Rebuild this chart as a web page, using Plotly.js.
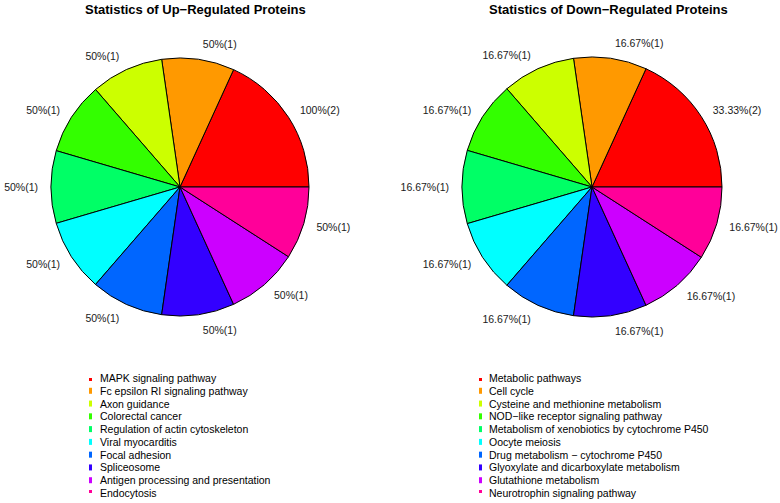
<!DOCTYPE html>
<html>
<head>
<meta charset="utf-8">
<script src="https://cdn.plot.ly/plotly-3.0.1.min.js"></script>
<style>html,body{margin:0;padding:0;background:#fff;}#chart{width:780px;height:503px;}</style>
</head>
<body>
<div id="chart"></div>
<script>
// ---- data ----
const upCategories = [
  "MAPK signaling pathway",
  "Fc epsilon RI signaling pathway",
  "Axon guidance",
  "Colorectal cancer",
  "Regulation of actin cytoskeleton",
  "Viral myocarditis",
  "Focal adhesion",
  "Spliceosome",
  "Antigen processing and presentation",
  "Endocytosis"
];
const upCounts = [2, 1, 1, 1, 1, 1, 1, 1, 1, 1];
const upPercent = ["100%", "50%", "50%", "50%", "50%", "50%", "50%", "50%", "50%", "50%"];

const downCategories = [
  "Metabolic pathways",
  "Cell cycle",
  "Cysteine and methionine metabolism",
  "NOD\u2212like receptor signaling pathway",
  "Metabolism of xenobiotics by cytochrome P450",
  "Oocyte meiosis",
  "Drug metabolism \u2212 cytochrome P450",
  "Glyoxylate and dicarboxylate metabolism",
  "Glutathione metabolism",
  "Neurotrophin signaling pathway"
];
const downCounts = [2, 1, 1, 1, 1, 1, 1, 1, 1, 1];
const downPercent = ["33.33%", "16.67%", "16.67%", "16.67%", "16.67%", "16.67%", "16.67%", "16.67%", "16.67%", "16.67%"];

const sliceColors = ["#FF0000", "#FF9900", "#CCFF00", "#33FF00", "#00FF66",
                     "#00FFFF", "#0066FF", "#3300FF", "#CC00FF", "#FF0099"];

const titles = ["Statistics of Up\u2212Regulated Proteins", "Statistics of Down\u2212Regulated Proteins"];

// ---- layout helpers ----
const W = 780, H = 503;
const FONT = "Liberation Sans, Arial, sans-serif";

function dom(cx, cy, r) {
  return {x: [(cx - r) / W, (cx + r) / W], y: [(H - cy - r) / H, (H - cy + r) / H]};
}

// visible pie (slices only)
function pieTrace(cats, counts, cx, cy, r) {
  const total = counts.reduce((a, b) => a + b, 0);
  return {
    type: "pie",
    labels: cats,
    values: counts,
    textinfo: "none",
    sort: false,
    direction: "counterclockwise",
    rotation: 90 - 360 * counts[0] / total, // first slice starts at 3 o'clock
    marker: {colors: sliceColors, line: {color: "#000000", width: 1}},
    domain: dom(cx, cy, r),
    hoverinfo: "none",
    showlegend: false
  };
}

// same slices, slightly larger and invisible, carrying the outside labels
function labelTrace(cats, counts, pcts, cx, cy, r) {
  const total = counts.reduce((a, b) => a + b, 0);
  return {
    type: "pie",
    labels: cats,
    values: counts,
    text: pcts.map((p, i) => p + "(" + counts[i] + ")"),
    textinfo: "text",
    textposition: "outside",
    sort: false,
    direction: "counterclockwise",
    rotation: 90 - 360 * counts[0] / total,
    marker: {colors: cats.map(() => "rgba(0,0,0,0)"), line: {width: 0}},
    outsidetextfont: {family: FONT, size: 10.5, color: "#1a1a1a"},
    domain: dom(cx, cy, r),
    hoverinfo: "none",
    showlegend: false
  };
}

function legendTrace(cats, xa, ya) {
  return {
    type: "scatter",
    mode: "markers",
    x: cats.map(() => 0),
    y: cats.map((c, i) => i),
    xaxis: xa, yaxis: ya,
    marker: {symbol: "square", size: 6, color: sliceColors, line: {width: 0}},
    hoverinfo: "none",
    showlegend: false
  };
}

const data = [
  pieTrace(upCategories, upCounts, 180, 187, 129),
  pieTrace(downCategories, downCounts, 592, 187, 130),
  labelTrace(upCategories, upCounts, upPercent, 180, 187, 139),
  labelTrace(downCategories, downCounts, downPercent, 592, 187, 140),
  legendTrace(upCategories, "x", "y"),
  legendTrace(downCategories, "x2", "y2")
];

const legendY = [(H - 493) / H, (H - 378) / H];
const hiddenAxis = {visible: false, showgrid: false, zeroline: false, fixedrange: true};

const annotations = [];
titles.forEach((t, k) => {
  annotations.push({
    text: "<b>" + t + "</b>", xref: "paper", yref: "paper",
    x: (k === 0 ? 195 : 608) / W, y: (H - 9) / H, xanchor: "center", yanchor: "middle",
    showarrow: false, font: {family: FONT, size: 13, color: "#000"}
  });
});
upCategories.forEach((c, i) => annotations.push({
  text: c, xref: "x", yref: "y", x: 0, y: i, xanchor: "left", yanchor: "middle",
  xshift: 9, showarrow: false, font: {family: FONT, size: 10.5, color: "#000"}
}));
downCategories.forEach((c, i) => annotations.push({
  text: c, xref: "x2", yref: "y2", x: 0, y: i, xanchor: "left", yanchor: "middle",
  xshift: 8, showarrow: false, font: {family: FONT, size: 10.5, color: "#000"}
}));

const layout = {
  width: W, height: H,
  margin: {l: 0, r: 0, t: 0, b: 0},
  paper_bgcolor: "#ffffff", plot_bgcolor: "#ffffff",
  showlegend: false,
  xaxis: Object.assign({domain: [89 / W, 350 / W], range: [0, 1]}, hiddenAxis),
  yaxis: Object.assign({domain: legendY, range: [9, 0]}, hiddenAxis),
  xaxis2: Object.assign({domain: [479 / W, 760 / W], range: [0, 1], anchor: "y2"}, hiddenAxis),
  yaxis2: Object.assign({domain: legendY, range: [9, 0], anchor: "x2"}, hiddenAxis),
  annotations: annotations
};

Plotly.newPlot("chart", data, layout, {staticPlot: true, displayModeBar: false});
</script>
</body>
</html>
